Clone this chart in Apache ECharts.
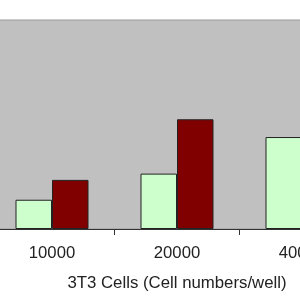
<!DOCTYPE html>
<html><head><meta charset="utf-8">
<script src="https://cdn.jsdelivr.net/npm/echarts@6/dist/echarts.min.js"></script>
<style>html,body{margin:0;padding:0;background:#fff}#c{width:300px;height:300px}</style>
</head><body><div id="c"></div>
<script>
const categories = ['10000', '20000', '40000'];
const seriesA = [0.28, 0.53, 0.88];
const seriesB = [0.47, 1.05, 1.6];
const xAxisTitle = '3T3 Cells (Cell numbers/well)';

const chart = echarts.init(document.getElementById('c'), null, {renderer: 'canvas'});
chart.setOption({
  animation: false,
  grid: {left: -10.5, right: -64.5, top: 20, bottom: 71, show: true,
         outerBoundsMode: 'none', containLabel: false,
         backgroundColor: '#c0c0c0', borderColor: '#9a9a9a', borderWidth: 1},
  xAxis: {
    type: 'category', data: categories,
    axisLine: {lineStyle: {color: '#333', width: 1}},
    axisTick: {show: true, length: 6, lineStyle: {color: '#333'}},
    axisLabel: {margin: 16, fontSize: 16.7, color: '#222', fontFamily: 'Liberation Sans, Arial, sans-serif'},
    name: xAxisTitle, nameLocation: 'middle', nameGap: 46,
    nameTextStyle: {fontSize: 16.8, color: '#222', fontFamily: 'Liberation Sans, Arial, sans-serif'}
  },
  yAxis: {type: 'value', min: 0, max: 2, show: false, splitLine: {show: false}},
  series: [
    {type: 'bar', data: seriesA, barGap: '0%', barCategoryGap: '41.6%',
     itemStyle: {color: '#ccffcc', borderColor: '#222', borderWidth: 1}},
    {type: 'bar', data: seriesB,
     itemStyle: {color: '#800000', borderColor: '#222', borderWidth: 1}}
  ]
});
</script></body></html>
